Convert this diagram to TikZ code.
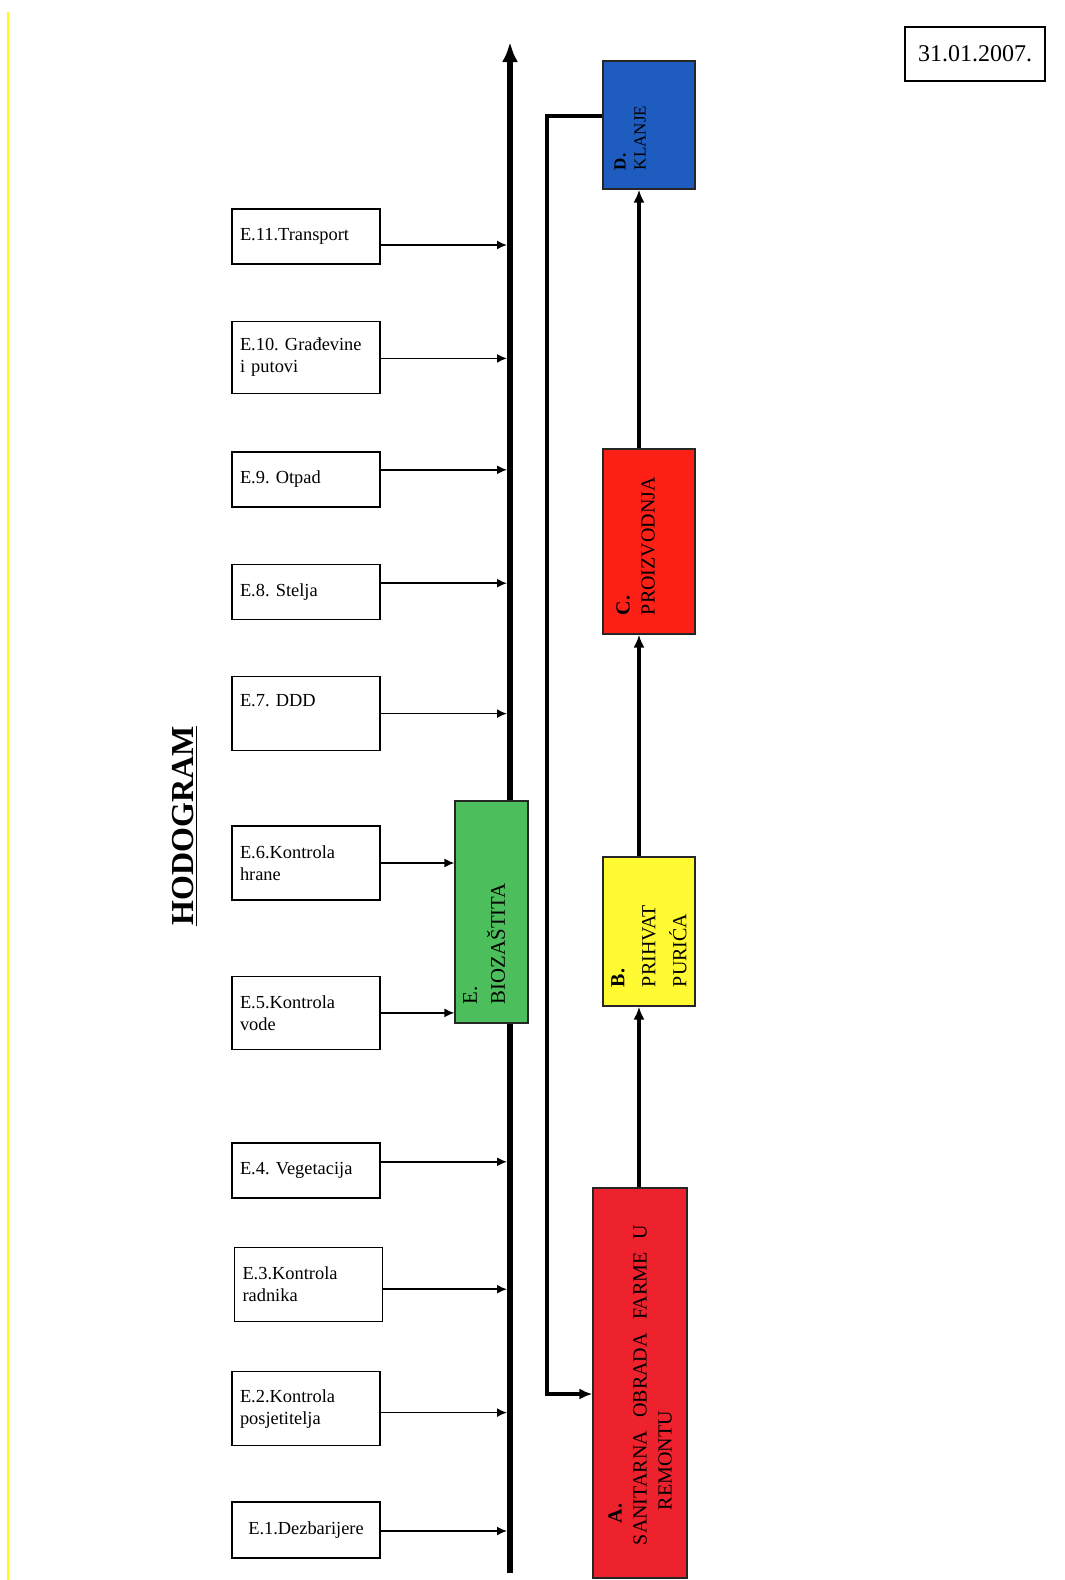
\documentclass[tikz,border=0pt]{standalone}
\usepackage{fontspec}
\setmainfont{Liberation Serif}
\frenchspacing
\usetikzlibrary{arrows.meta,positioning}
\definecolor{sanRed}{RGB}{238,34,44}
\definecolor{prodRed}{RGB}{252,32,22}
\definecolor{recvYellow}{RGB}{255,250,50}
\definecolor{slaughterBlue}{RGB}{30,92,192}
\definecolor{bioGreen}{RGB}{77,190,92}
\definecolor{scanYellow}{RGB}{255,250,20}
\tikzstyle{measure}=[
	rectangle,
	draw,
	line width=0.7pt,
	minimum width=74pt,
	text width=66pt,
	inner xsep=4pt,
	align=left,
	font=\fontsize{9.2}{11}\selectfont
]
\tikzstyle{stage}=[
	rectangle,
	rotate=90,
	draw=black!85,
	line width=0.6pt,
	inner xsep=9.5pt,
	inner ysep=0pt,
	align=left,
	font=\fontsize{10}{12.5}\selectfont
]
\tikzstyle{feed}=[
	->,
	>={Latex[length=5pt,width=4.5pt]},
	line width=0.8pt
]
\tikzstyle{flow}=[
	->,
	>={Latex[length=6.5pt,width=5.5pt]},
	line width=1.6pt
]
\tikzstyle{spine}=[
	-{Latex[length=10pt,width=8pt]},
	line width=3pt
]

\begin{document}
\begin{tikzpicture}[x=0.5pt,y=-0.5pt]
\useasboundingbox (0,0) rectangle (1065,1580);
\draw[scanYellow, line width=1pt] (8,12) -- (8,1580);

% title and date
\node[rotate=90, anchor=base, font=\bfseries\fontsize{16}{18}\selectfont] (title) at (193,826) {\underline{HODOGRAM}};
\node[draw, line width=0.7pt, minimum width=70pt, minimum height=27pt, font=\fontsize{12}{14}\selectfont] (date) at (975,54) {31.01.2007.};

% biosecurity measures
\node [measure, minimum height=27.5pt] (E11) at (306,236.5) {E.11.Transport};
\node [measure, minimum height=36pt] (E10) [below=28pt of E11] {E.10. Građevine\\i putovi};
\node [measure, minimum height=27.5pt] (E9) [below=28.5pt of E10] {E.9. Otpad};
\node [measure, minimum height=27.5pt] (E8) [below=28pt of E9] {E.8. Stelja};
\node [measure, minimum height=37pt, text depth=13pt] (E7) [below=28pt of E8] {E.7. DDD};
\node [measure, minimum height=37pt] (E6) [below=37pt of E7] {E.6.Kontrola\\hrane};
\node [measure, minimum height=36.5pt] (E5) [below=37.5pt of E6] {E.5.Kontrola\\vode};
\node [measure, minimum height=27.5pt] (E4) [below=46pt of E5] {E.4. Vegetacija};
\node [measure, minimum height=37pt] (E3) [below=24pt of E4, xshift=1.25pt] {E.3.Kontrola\\radnika};
\node [measure, minimum height=37pt] (E2) [below=24.5pt of E3, xshift=-1.25pt] {E.2.Kontrola\\posjetitelja};
\node [measure, minimum height=28pt, align=center] (E1) [below=27.5pt of E2] {E.1.Dezbarijere};

% time axis
\coordinate (axbot) at (510,1573);
\coordinate (axtop) at (510,42);
\draw[spine] (axbot) -- (axtop);

% stages (rotated: east = top, west = bottom, north = left)
\node [stage, fill=bioGreen, minimum width=111pt, minimum height=36.5pt, text width=92pt, text depth=21.5pt, font=\fontsize{10.4}{14}\selectfont] (bio) at (491.5,912) {E.\\BIOZAŠTITA};
\node [stage, fill=sanRed, minimum width=195pt, minimum height=47pt, text width=176pt] (A) at (640,1383)
	{\hspace*{18pt}\textbf{A.}\\\hspace*{7pt}SANITARNA~ OBRADA~ FARME~ U\\\hspace*{24.5pt}REMONTU};
\node [stage, fill=recvYellow, minimum width=74.5pt, minimum height=46pt, text width=55.5pt, font=\fontsize{10}{15.5}\selectfont] (B) at (649,931.5) {\textbf{B.}\\PRIHVAT\\PURIĆA};
\node [stage, fill=prodRed, minimum width=92.5pt, minimum height=46pt, text width=73.5pt, text depth=26pt] (C) at (649,541.5) {\textbf{C.}\\PROIZVODNJA};
\node [stage, fill=slaughterBlue, minimum width=64pt, minimum height=46pt, text width=45pt, text depth=29pt, font=\fontsize{8.5}{10}\selectfont] (D) at (649,125) {\textbf{D.}\\KLANJE};

% measures into the axis
\foreach \n/\dy in {11/-4.25,10/-0.5,9/4.75,8/4.25,7/0,4/4.25,3/-2.5,2/-2,1/-0.5}{
	\path ([yshift=\dy pt]E\n.east) coordinate (src);
	\draw[feed, shorten >=1.5pt] (src) -- (src -| axbot);
}
\foreach \n in {6,5}
	\draw[feed] (E\n.east) -- (E\n.east -| bio.north);

% process chain
\coordinate (lane) at (639,0);
\draw[flow] (lane |- A.east) -- (lane |- B.west);
\draw[flow] (lane |- B.east) -- (lane |- C.west);
\draw[flow] (lane |- C.east) -- (lane |- D.west);
\coordinate (retTop) at (547,116);
\coordinate (retBot) at (547,1394);
\draw[flow] (retTop -| D.north) -- (retTop) -- (retBot) -- (retBot -| A.north);
\end{tikzpicture}
\end{document}
